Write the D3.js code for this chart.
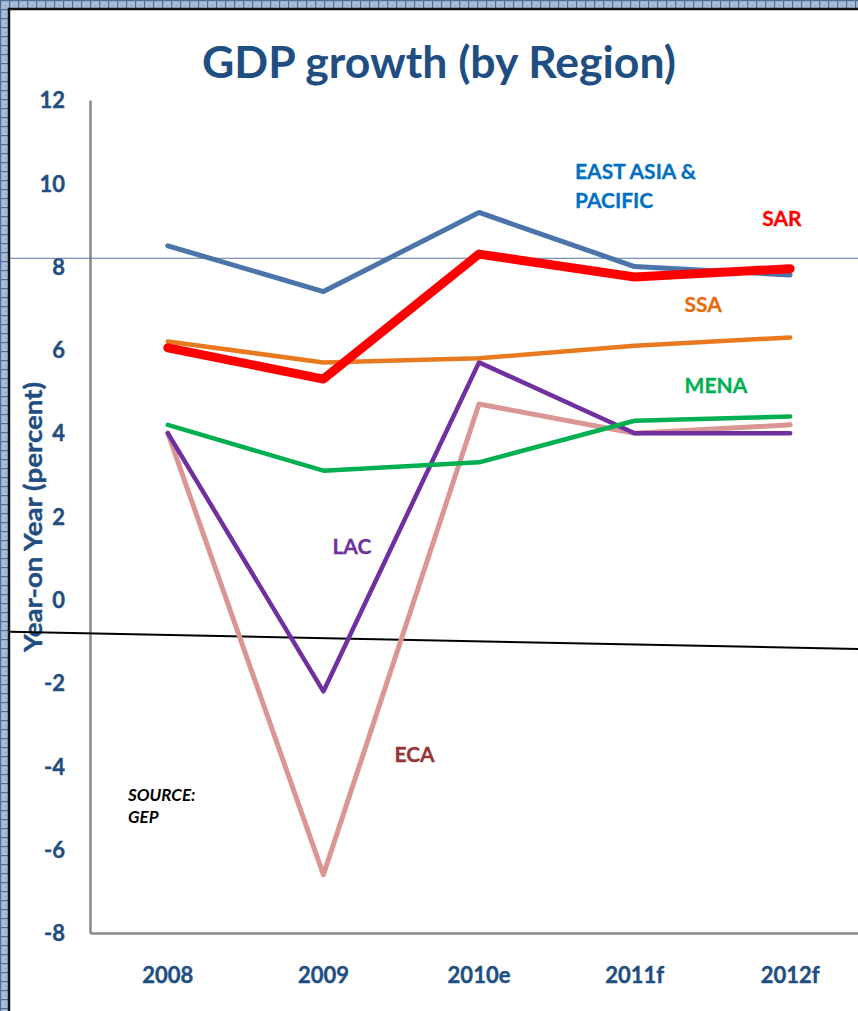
<!DOCTYPE html>
<html><head><meta charset="utf-8">
<script src="https://cdn.jsdelivr.net/npm/d3@7"></script>
<style>html,body{margin:0;padding:0;background:#fff;}svg{display:block;}</style>
</head><body><svg id="c" width="858" height="1011"></svg>
<script>
const categories = ["2008","2009","2010e","2011f","2012f"];
const eap  = [8.5, 7.4, 9.3, 8.0, 7.8];
const sar  = [6.05, 5.3, 8.3, 7.75, 7.95];
const ssa  = [6.2, 5.7, 5.8, 6.1, 6.3];
const mena = [4.2, 3.1, 3.3, 4.3, 4.4];
const lac  = [4.0, -2.2, 5.7, 4.0, 4.0];
const eca  = [4.0, -6.6, 4.7, 4.0, 4.2];
const yTicks = [12,10,8,6,4,2,0,-2,-4,-6,-8];
const refLevel = 8.2;          // thin grey-blue guide line
const slantLine = [-0.77, -1.18]; // black annotation line (left, right)

const series = [
  {name:"ECA",  values:eca,  color:"#d99694", width:5},
  {name:"LAC",  values:lac,  color:"#7030a0", width:4.5},
  {name:"MENA", values:mena, color:"#00b050", width:4.5},
  {name:"SSA",  values:ssa,  color:"#e8791e", width:4.5},
  {name:"EAP",  values:eap,  color:"#4a74aa", width:5},
  {name:"SAR",  values:sar,  color:"#ff0000", width:9}
];
const labels = [
  {lines:["EAST ASIA &","PACIFIC"], color:"#0070c0", cat:"2010e", v:10.1, dx:96},
  {lines:["SAR"], color:"#ff0000", cat:"2012f", v:8.98, dx:-28},
  {lines:["SSA"], color:"#e46c0a", cat:"2011f", v:6.9, dx:50},
  {lines:["MENA"], color:"#00b050", cat:"2011f", v:4.97, dx:50},
  {lines:["LAC"], color:"#7030a0", cat:"2009", v:1.1, dx:9},
  {lines:["ECA"], color:"#943634", cat:"2009", v:-3.9, dx:71}
];

const W = 858, H = 1011;
const svg = d3.select("#c");
const defs = svg.append("defs");
const pat = defs.append("pattern").attr("id","bd").attr("width",9).attr("height",9).attr("patternUnits","userSpaceOnUse");
pat.append("rect").attr("width",9).attr("height",9).attr("fill","#aabdd6");
pat.append("rect").attr("x",0).attr("y",0).attr("width",1.2).attr("height",9).attr("fill","#4d6f9f");
pat.append("rect").attr("x",0).attr("y",0).attr("width",9).attr("height",1.2).attr("fill","#4d6f9f");
pat.append("rect").attr("x",5).attr("y",5).attr("width",1).attr("height",1).attr("fill","#6b87b0");

svg.append("rect").attr("width",W).attr("height",H).attr("fill","url(#bd)");
svg.append("rect").attr("x",10).attr("y",10).attr("width",W-10).attr("height",H-10).attr("fill","#fff");
svg.append("path").attr("d",`M9,${H} V9 H${W}`).attr("fill","none").attr("stroke","#111").attr("stroke-width",2.5);

const x = d3.scaleBand().domain(categories).range([90, 90+5*155.6]).padding(0);
const y = d3.scaleLinear().domain([-8,12]).range([933,100]);
const cx = c => x(c) + x.bandwidth()/2;
const FONT = "Lato, 'Open Sans', sans-serif";
const AX = "#1f4e82";

// title
svg.append("text").attr("x",439).attr("y",78).attr("text-anchor","middle")
  .attr("font-family",FONT).attr("font-weight","bold")
  .attr("font-size",43).attr("fill",AX)
  .attr("textLength",474).attr("lengthAdjust","spacingAndGlyphs")
  .text("GDP growth (by Region)");

// axes
const yAxis = svg.append("g").attr("transform","translate(90,0)")
  .call(d3.axisLeft(y).tickValues(yTicks).tickSize(0).tickPadding(25).tickFormat(d => String(d)));
yAxis.select(".domain").attr("stroke","#888").attr("stroke-width",2.5);
yAxis.selectAll("text").attr("font-family",FONT).attr("font-weight","bold")
  .attr("font-size",22).attr("fill",AX).attr("dy","0.35em")
  .attr("stroke",AX).attr("stroke-width",0.4);

const xAxis = svg.append("g").attr("transform","translate(0,933)")
  .call(d3.axisBottom(x).tickSize(0).tickPadding(34));
xAxis.select(".domain").attr("stroke","#888").attr("stroke-width",2.5);
xAxis.selectAll("text").attr("font-family",FONT).attr("font-weight","bold")
  .attr("font-size",22).attr("fill",AX).attr("stroke",AX).attr("stroke-width",0.4);

svg.append("text").attr("transform",`translate(42,${517}) rotate(-90)`).attr("text-anchor","middle")
  .attr("font-family",FONT).attr("font-weight","bold").attr("font-size",24)
  .attr("fill",AX).attr("stroke",AX).attr("stroke-width",0.4)
  .attr("textLength",270).attr("lengthAdjust","spacingAndGlyphs")
  .text("Year-on Year (percent)");

// guide line
svg.append("line").attr("x1",10).attr("x2",W).attr("y1",y(refLevel)).attr("y2",y(refLevel))
  .attr("stroke","#5a76a0").attr("stroke-width",1);
// slanted black line
svg.append("line").attr("x1",10).attr("x2",W).attr("y1",y(slantLine[0])).attr("y2",y(slantLine[1]))
  .attr("stroke","#000").attr("stroke-width",2);

const line = d3.line().x((d,i)=>cx(categories[i])).y(d=>y(d));
series.forEach(s=>{
  svg.append("path").attr("d",line(s.values)).attr("fill","none")
    .attr("stroke",s.color).attr("stroke-width",s.width)
    .attr("stroke-linejoin","round").attr("stroke-linecap","round");
});

labels.forEach(l=>{
  const t = svg.append("text").attr("font-family",FONT).attr("font-weight","bold")
    .attr("font-size",21).attr("fill",l.color).attr("stroke",l.color).attr("stroke-width",0.3);
  l.lines.forEach((ln,i)=>{
    t.append("tspan").attr("x",cx(l.cat)+l.dx).attr("y",y(l.v)+i*29).text(ln);
  });
});

const src = svg.append("text").attr("font-family",FONT).attr("font-weight","bold")
  .attr("font-style","italic").attr("font-size",17).attr("fill","#000");
src.append("tspan").attr("x",128).attr("y",801).text("SOURCE:");
src.append("tspan").attr("x",128).attr("y",823).text("GEP");
</script></body></html>
